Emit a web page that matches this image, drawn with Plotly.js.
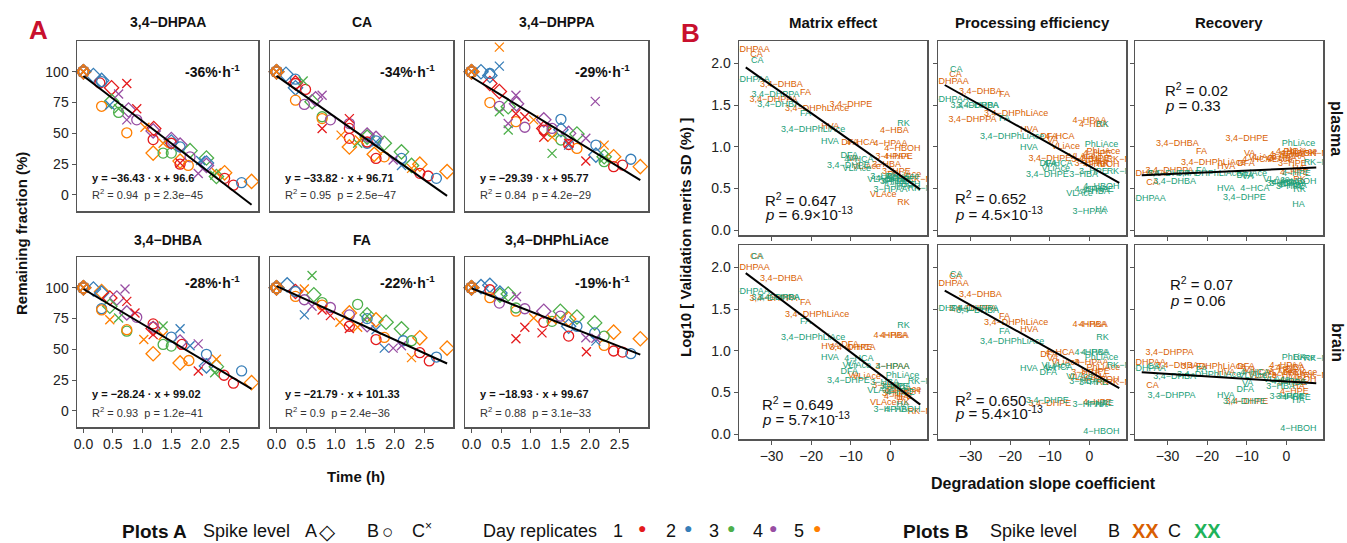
<!DOCTYPE html>
<html><head><meta charset="utf-8">
<script src="https://cdn.plot.ly/plotly-3.0.1.min.js"></script>
<style>html,body{margin:0;padding:0;background:#fff}#plot{width:1347px;height:543px}</style>
</head><body><div id="plot"></div><script>
// ---------------- Panel A data: [time (h), remaining fraction (%), day replicate] ----------------
const dhpaa_dia=[[0,100,1],[0,100,2],[0,100,3],[0,100,4],[0,100,5],[0.17,97,2],[0.31,93,2],[0.48,87,1],[0.48,76,3],[0.77,69,4],[1.2,54,1],[1.19,52,4],[1.19,34,5],[1.5,45,4],[1.5,43,2],[1.65,40.5,4],[1.82,36,3],[1.65,27.5,5],[2.1,30,3],[2.1,26,2],[2.1,24,4],[2.41,18,5],[2.87,11,5],[2.27,15,3]];
const dhpaa_cir=[[0,100,1],[0,100,2],[0,100,3],[0,100,4],[0,100,5],[0.28,91,1],[0.31,92,2],[0.31,72,5],[0.6,67,3],[0.91,61,4],[0.74,50.5,5],[1.19,45,1],[1.36,34,3],[1.5,34,3],[1.5,42,1],[1.65,39,2],[1.82,31,4],[1.65,25,1],[1.79,24,5],[2.41,13.5,1],[2.56,8,1],[2.7,10,2]];
const dhpaa_x=[[0,100,1],[0,100,2],[0,100,3],[0,100,4],[0,100,5],[0.74,90.5,1],[0.6,82,4],[0.45,73,2],[0.6,70,3],[0.74,61,4],[0.91,70,1],[1.05,55,5],[1.36,42,5],[1.96,17.5,4],[2.27,18,5],[2.24,16,3],[2.0,28,2],[1.65,26,1]];
const ca_dia=[[0,100,1],[0,100,2],[0,100,3],[0,100,4],[0,100,5],[0.16,98,2],[0.32,87,2],[0.32,91,1],[0.6,75.7,3],[0.66,78,4],[1.23,39,5],[1.53,48.6,4],[1.53,47,3],[1.68,46,4],[1.82,42,3],[1.65,33,5],[2.11,35,3],[2.28,24,3],[2.42,25,5],[2.88,19,5]];
const ca_cir=[[0,100,1],[0,100,2],[0,100,3],[0,100,4],[0,100,5],[0.32,94,2],[0.32,90.5,1],[0.49,85.7,1],[0.32,77,5],[0.47,73.5,4],[0.77,63.5,3],[0.77,62,5],[0.91,61,4],[1.23,54,1],[1.23,58,4],[1.23,46,1],[1.53,42,2],[1.53,43,1],[1.68,44,2],[1.82,31,5],[1.68,29.7,1],[2.11,29.7,2],[2.42,17.6,1],[2.56,15.4,1],[2.7,13.5,2]];
const ca_x=[[0,100,1],[0,100,2],[0,100,3],[0,100,4],[0,100,5],[0.45,92.5,3],[0.77,81,4],[0.77,54,1],[1.23,62,1],[1.09,48.6,5],[1.37,42,3],[1.4,44.6,5],[1.97,28.4,4],[2.11,24,2],[2.28,21.6,5],[1.68,43,2]];
const dhppa_dia=[[0,100,1],[0,100,2],[0,100,3],[0,100,4],[0,100,5],[0.16,100,2],[0.31,97,2],[0.31,90.5,1],[0.47,84,1],[0.62,71.6,3],[0.76,74,4],[1.22,61,4],[1.22,54,1],[1.51,53,2],[1.64,50,4],[1.78,49.5,3],[2.1,32.4,2],[2.24,31,3],[2.4,31,5],[2.85,23,5]];
const dhppa_cir=[[0,100,1],[0,100,2],[0,100,3],[0,100,4],[0,100,5],[0.31,98.6,2],[0.31,75,5],[0.47,72,4],[0.75,59.5,5],[0.9,55,4],[1.22,52.7,1],[1.36,51.4,3],[1.36,54,4],[1.51,61.4,2],[1.51,44.6,3],[1.64,41,1],[1.78,37.8,5],[2.1,40.5,2],[2.24,27,3],[2.4,23,1],[2.55,24.3,1],[2.69,29,2]];
const dhppa_x=[[0,100,1],[0,100,2],[0,100,3],[0,100,4],[0,100,5],[0.47,120,5],[0.47,104.6,2],[0.75,81,4],[0.47,67.6,3],[0.75,66,1],[0.62,58,4],[0.62,52.7,3],[0.9,63.5,1],[1.05,61,5],[1.22,46.8,1],[1.36,47,5],[1.36,33.8,3],[1.64,40.5,2],[1.64,42,1],[1.93,46,4],[2.09,76,4],[2.24,40.5,5],[1.93,27.6,1],[2.24,30,3]];
const dhba_dia=[[0,100,1],[0,100,2],[0,100,3],[0,100,4],[0,100,5],[0.17,99,2],[0.31,97,5],[0.31,95.7,2],[0.45,91.7,1],[0.57,91.7,4],[0.45,85,3],[0.74,79.6,4],[1.19,67,1],[1.19,46.5,5],[1.65,56,4],[1.65,39,5],[2.1,36.6,2],[2.27,36,3],[2.87,23,5]];
const dhba_cir=[[0,100,1],[0,100,2],[0,100,3],[0,100,4],[0,100,5],[0.31,83,2],[0.31,82,5],[0.74,64.8,3],[0.74,66,5],[0.91,76,4],[1.19,70.7,1],[1.19,68,4],[1.36,54,3],[1.5,60,2],[1.5,52.7,3],[1.68,54,1],[1.8,41,5],[2.1,46,2],[2.4,29,1],[2.56,22.6,1],[2.7,32.5,2]];
const dhba_x=[[0,100,1],[0,100,2],[0,100,3],[0,100,4],[0,100,5],[0.71,99,4],[0.74,89,1],[0.6,75.5,3],[0.45,74,5],[0.88,79.6,1],[1.03,58,5],[1.19,62,1],[1.36,69,3],[1.36,61.3,5],[1.65,66.7,2],[1.82,53,2],[1.96,54.5,4],[1.96,32.5,1],[2.27,42,5],[2.24,31,3],[2.1,40,4]];
const fa_dia=[[0,100,1],[0,100,2],[0,100,3],[0,100,4],[0,100,5],[0.18,102.4,2],[0.32,97,1],[0.63,94.4,3],[1.23,79.6,5],[1.53,78,3],[1.53,70,4],[1.68,74,5],[1.85,72,3],[2.11,66.7,3],[2.42,59.4,5],[2.88,51,5]];
const fa_cir=[[0,100,1],[0,100,2],[0,100,3],[0,100,4],[0,100,5],[0.32,93,5],[0.32,97,2],[0.47,90.3,4],[0.77,88,3],[0.77,86,5],[0.91,84,4],[1.23,78,4],[1.23,68.8,1],[1.37,86.6,3],[1.53,75,2],[1.68,58,1],[1.82,59.7,5],[2.14,57,2],[2.28,57,3],[2.42,47.3,1],[2.58,40.6,1],[2.7,43.8,2]];
const fa_x=[[0,100,1],[0,100,2],[0,100,3],[0,100,4],[0,100,5],[0.47,99,5],[0.6,110,3],[0.47,78,2],[0.6,85,4],[0.77,82,1],[0.91,77.4,1],[1.07,72,5],[1.23,67,1],[1.37,68,5],[1.53,77,3],[1.68,66,2],[1.82,51,2],[1.97,51,4],[2.11,53,4],[2.28,43.3,5]];
const phl_dia=[[0,100,1],[0,100,2],[0,100,3],[0,100,4],[0,100,5],[0.16,101,2],[0.31,102,2],[0.48,94,3],[0.48,95.7,2],[0.62,95,3],[1.22,81,4],[1.5,81,3],[1.64,74.7,5],[1.64,68.8,2],[1.78,76.3,3],[2.08,71.5,3],[2.4,64,5],[2.85,58.6,5]];
const phl_cir=[[0,100,1],[0,100,2],[0,100,3],[0,100,4],[0,100,5],[0.31,98.4,1],[0.31,92,5],[0.47,87.6,4],[0.75,81,5],[0.75,83.6,3],[0.9,83,4],[1.22,72,1],[1.36,72.8,3],[1.5,77,4],[1.64,60.8,1],[1.78,68.8,2],[2.08,63.4,2],[2.24,60.8,3],[2.24,53.2,5],[2.4,48.7,1],[2.55,47.8,1],[2.69,46.5,2]];
const phl_x=[[0,100,1],[0,100,2],[0,100,3],[0,100,4],[0,100,5],[0.76,93,4],[0.75,58.6,1],[0.9,68,1],[1.05,75.5,5],[1.19,63.4,1],[1.36,74,5],[1.93,59.4,4],[1.94,48.1,1],[2.1,56.7,2],[2.1,59,4]];

const aTitles=["3,4\u2212DHPAA","CA","3,4\u2212DHPPA","3,4\u2212DHBA","FA","3,4\u2212DHPhLiAce"];
const aRates=["-36","-34","-29","-28","-22","-19"];
const aSlope=[-36.43,-33.82,-29.39,-28.24,-21.79,-18.93];
const aIntercept=[96.6,96.71,95.77,99.02,101.33,99.67];
const aR2=["0.94","0.95","0.84","0.93","0.9","0.88"];
const aP=["2.3e\u221245","2.5e\u221247","4.2e\u221229","1.2e\u221241","2.4e\u221236","3.1e\u221233"];
const aTickVals=[0,0.5,1,1.5,2,2.5];
const aTickText=["0.0","0.5","1.0","1.5","2.0","2.5"];
const aYTicks=[0,25,50,75,100];

// ---------------- Panel B data ----------------
const bNames=["3,4\u2212DHPAA","CA","3,4\u2212DHBA","3,4\u2212DHPPA","FA","3,4\u2212DHPhLiAce","3,4\u2212DHPE","HVA","DFA","4\u2212HCA","VA","VLiAce","VLAce","3\u2212HBA","4\u2212HBA","4\u2212HPAA","3\u2212HPAA","4\u2212HBOH","4\u2212HPE","3\u2212HPE","PhLiAce","HA","RK","RK\u2212M"];
const slopeB=[-36.5,-33.8,-27.5,-29.5,-21.4,-18.5,-10.0,-15.2,-10.2,-7.5,-9.3,-6.0,-1.8,-1.0,1.0,0.0,0.5,3.0,2.0,1.5,3.5,3.0,3.3,7.5];
const slopeC=[-36.5,-33.6,-28.2,-29.0,-21.4,-19.5,-10.6,-15.3,-10.4,-8.0,-9.8,-8.5,-2.5,-1.5,1.5,0.5,0.0,3.0,2.5,1.0,3.0,3.0,3.3,7.5];
const meP_B=[2.16,2.10,1.75,1.56,1.65,1.46,1.51,1.24,1.05,1.05,0.85,0.76,0.42,0.78,1.19,1.03,0.88,0.98,0.88,0.70,0.66,0.61,0.33,0.60];
const meP_C=[1.81,2.03,1.51,1.62,1.40,1.20,0.77,1.06,0.89,0.84,0.85,0.74,0.60,0.64,0.58,0.62,0.48,0.54,0.60,0.58,0.64,0.52,1.28,0.49];
const peP_B=[1.78,1.86,1.66,1.33,1.62,1.40,0.86,1.21,1.12,1.12,1.07,1.00,0.88,0.84,1.26,1.31,0.80,0.78,0.92,0.86,0.94,0.84,0.80,0.84];
const peP_C=[1.56,1.92,1.49,1.49,1.34,1.12,0.66,0.99,0.80,0.80,0.78,0.74,0.44,0.66,0.46,0.48,0.22,0.52,0.48,0.70,1.02,0.24,1.26,0.70];
const reP_B=[0.67,0.57,1.03,0.71,0.94,0.81,1.10,0.76,0.79,0.84,0.91,0.87,0.84,0.86,0.94,0.90,0.88,0.92,0.69,0.80,0.94,0.74,0.60,0.92];
const reP_C=[0.38,0.68,0.58,0.68,0.71,0.68,0.39,0.49,0.65,0.49,0.64,0.67,0.60,0.56,0.53,0.57,0.56,0.58,0.68,0.52,1.03,0.30,0.48,0.81];
const meB_B=[2.00,2.13,1.86,1.62,1.58,1.43,1.04,1.05,1.07,1.03,0.70,0.69,0.38,0.58,1.18,1.18,0.81,0.51,0.45,0.48,0.53,0.43,0.37,0.27];
const meB_C=[1.71,2.13,1.64,1.64,1.35,1.16,0.64,0.92,0.75,0.90,0.84,0.82,0.52,0.61,0.57,0.81,0.29,0.29,0.49,0.57,0.70,0.35,1.30,0.63];
const peB_B=[1.80,1.89,1.67,1.51,1.41,1.34,0.36,1.25,0.95,0.98,0.90,0.86,0.68,0.73,1.31,1.31,0.85,0.65,0.38,0.75,0.79,0.69,0.61,0.61];
const peB_C=[1.50,1.91,1.48,1.51,1.23,1.11,0.40,0.78,0.74,0.80,0.78,0.82,0.69,0.63,0.97,0.98,0.35,0.03,0.36,0.61,0.91,0.35,1.16,0.82];
const reB_B=[0.86,0.58,0.82,0.98,0.81,0.81,0.39,0.73,0.81,0.73,0.77,0.70,0.73,0.77,0.80,0.82,0.70,0.65,0.51,0.62,0.73,0.57,0.73,0.70];
const reB_C=[0.78,0.81,0.69,0.46,0.77,0.71,0.39,0.46,0.53,0.74,0.60,0.70,0.65,0.57,0.61,0.63,0.45,0.06,0.43,0.45,0.92,0.40,0.91,0.90];
const bFitSlope=[-0.0333,-0.0267,0.0021,-0.0359,-0.0266,-0.0030];
const bFitInt=[0.737,0.767,0.735,0.622,0.751,0.631];
const bR2=["0.647","0.652","0.02","0.649","0.650","0.07"];
const bP=["6.9\u00d710<sup>-13</sup>","4.5\u00d710<sup>-13</sup>","0.33","5.7\u00d710<sup>-13</sup>","5.4\u00d710<sup>-13</sup>","0.06"];
const bColTitles=["Matrix effect","Processing efficiency","Recovery"];
const bRowTitles=["plasma","brain"];
const bXTicks=[-30,-20,-10,0];
const bXTickText=["\u221230","\u221220","\u221210","0"];
const bYTicks=[0,0.5,1,1.5,2];
const bYTickText=["0.0","0.5","1.0","1.5","2.0"];

// ---------------- Styling / layout ----------------
const W=1347,H=543;
const fx=p=>p/W, fy=p=>1-p/H;
const FONT="Liberation Sans, Arial, sans-serif";
const dayColors=['#E41A1C','#377EB8','#4DAF4A','#984EA3','#FF7F00'];
const colB='#D95F02', colC='#1B9E77';
const colsA=[[77,258],[270,453],[465,648]], rowsA=[[41,211],[257,427]];
const colsB=[[739,927],[938,1126],[1135,1323]], rowsB=[[41,235],[245,439]];

const layout={width:W,height:H,margin:{l:0,r:0,t:0,b:0,pad:0},showlegend:false,
  paper_bgcolor:'#fff',plot_bgcolor:'#fff',font:{family:FONT,color:'#222'},annotations:[]};
const data=[];
const base={showline:true,mirror:true,linecolor:'#555',linewidth:1.5,showgrid:false,zeroline:false,
  ticks:'outside',ticklen:4,tickwidth:1,tickcolor:'#555',tickfont:{family:FONT,size:14,color:'#222'},fixedrange:true};
let n=0;
function axes(fX,fY,xo,yo){
  n++; const s=n===1?'':String(n);
  layout['xaxis'+s]=Object.assign({},base,{domain:[fx(fX[0]),fx(fX[1])],anchor:'y'+s},xo);
  layout['yaxis'+s]=Object.assign({},base,{domain:[fy(fY[1]),fy(fY[0])],anchor:'x'+s},yo);
  return ['x'+s,'y'+s];
}
function ann(x,y,text,opt){layout.annotations.push(Object.assign({xref:'paper',yref:'paper',x:fx(x),y:fy(y),text:text,showarrow:false,font:{family:FONT,size:14,color:'#111'},xanchor:'center',yanchor:'middle'},opt||{}));}

// Panel A
const aSets=[[dhpaa_dia,dhpaa_cir,dhpaa_x],[ca_dia,ca_cir,ca_x],[dhppa_dia,dhppa_cir,dhppa_x],[dhba_dia,dhba_cir,dhba_x],[fa_dia,fa_cir,fa_x],[phl_dia,phl_cir,phl_x]];
const symbols=['diamond-open','circle-open','x-thin-open'];
const symSizes=[11,10,9];
aSets.forEach((sets,i)=>{
  const r=Math.floor(i/3), c=i%3;
  const [xa,ya]=axes(colsA[c],rowsA[r],
    {range:[-0.11,2.98],tickvals:aTickVals,ticktext:aTickText,showticklabels:r===1,ticks:r===1?'outside':''},
    {range:[-13,125],tickvals:aYTicks,showticklabels:c===0,ticks:c===0?'outside':''});
  let maxT=0;
  sets.forEach((pts,k)=>{
    const cols=pts.map(p=>dayColors[p[2]-1]);
    pts.forEach(p=>{if(p[0]>maxT)maxT=p[0];});
    data.push({type:'scatter',mode:'markers',xaxis:xa,yaxis:ya,x:pts.map(p=>p[0]),y:pts.map(p=>p[1]),hoverinfo:'skip',
      marker:{symbol:symbols[k],size:symSizes[k],color:cols,line:{width:1.3,color:cols}},cliponaxis:false});
  });
  data.push({type:'scatter',mode:'lines',xaxis:xa,yaxis:ya,x:[0,maxT],y:[aIntercept[i],aIntercept[i]+aSlope[i]*maxT],
    line:{color:'#000',width:2},hoverinfo:'skip'});
  const fl=colsA[c][0], fr=colsA[c][1];
  const ty=r===0?[22,71,178,194]:[240,282,394,412];
  ann((fl+fr)/2,ty[0],'<b>'+aTitles[i]+'</b>',{font:{family:FONT,size:14,color:'#111'}});
  ann(fr-16,ty[1],'<b>'+aRates[i]+'%\u00b7h<sup>-1</sup></b>',{xanchor:'right',font:{family:FONT,size:14,color:'#111'}});
  ann(fl+13,ty[2],'<b>y = \u2212'+Math.abs(aSlope[i]).toFixed(2)+' \u00b7 x + '+aIntercept[i]+'</b>',{xanchor:'left',font:{family:FONT,size:11,color:'#111'}});
  ann(fl+13,ty[3],'R<sup>2</sup> = '+aR2[i]+'  p = '+aP[i],{xanchor:'left',font:{family:FONT,size:11,color:'#333'}});
});

// Panel B
const bY=[[meP_B,meP_C],[peP_B,peP_C],[reP_B,reP_C],[meB_B,meB_C],[peB_B,peB_C],[reB_B,reB_C]];
const allX=slopeB.concat(slopeC), xMin=Math.min(...allX), xMax=Math.max(...allX);
const r2Pos=[[763,200,213],[953,198,213],[1163,89,106],[760,403,418],[953,399,413],[1168,283,300]];
bY.forEach((ys,i)=>{
  const r=Math.floor(i/3), c=i%3;
  const [xa,ya]=axes(colsB[c],rowsB[r],
    {range:[-38.2,9.2],tickvals:bXTicks,ticktext:bXTickText,showticklabels:r===1},
    {range:[-0.06,2.27],tickvals:bYTicks,ticktext:bYTickText,showticklabels:c===0});
  data.push({type:'scatter',mode:'text',xaxis:xa,yaxis:ya,x:slopeB,y:ys[0],text:bNames,textposition:'middle center',
    textfont:{family:FONT,size:9,color:colB},cliponaxis:true,hoverinfo:'skip'});
  data.push({type:'scatter',mode:'text',xaxis:xa,yaxis:ya,x:slopeC,y:ys[1],text:bNames,textposition:'middle center',
    textfont:{family:FONT,size:9,color:colC},cliponaxis:true,hoverinfo:'skip'});
  data.push({type:'scatter',mode:'lines',xaxis:xa,yaxis:ya,x:[xMin,xMax],y:[bFitInt[i]+bFitSlope[i]*xMin,bFitInt[i]+bFitSlope[i]*xMax],
    line:{color:'#000',width:2},hoverinfo:'skip'});
  const p=r2Pos[i];
  ann(p[0],p[1],'R<sup>2</sup> = '+bR2[i],{xanchor:'left',font:{family:FONT,size:15,color:'#111'}});
  ann(p[0],p[2],'<i>p</i> = '+bP[i],{xanchor:'left',font:{family:FONT,size:15,color:'#111'}});
  if(r===0) ann((colsB[c][0]+colsB[c][1])/2,22,'<b>'+bColTitles[c]+'</b>',{font:{family:FONT,size:15,color:'#111'}});
});
ann(1337,128,'<b>'+bRowTitles[0]+'</b>',{textangle:90,font:{family:FONT,size:16,color:'#111'}});
ann(1337,342,'<b>'+bRowTitles[1]+'</b>',{textangle:90,font:{family:FONT,size:16,color:'#111'}});

// Panel letters and axis titles
ann(38,30,'<b>A</b>',{font:{family:FONT,size:26,color:'#C8102E'}});
ann(690,33,'<b>B</b>',{font:{family:FONT,size:26,color:'#C8102E'}});
ann(21,234,'<b>Remaining fraction (%)</b>',{textangle:-90,font:{family:FONT,size:15,color:'#111'}});
ann(356,476,'<b>Time (h)</b>',{font:{family:FONT,size:15,color:'#111'}});
ann(685,238,'<b>Log10 [ Validation merits SD (%) ]</b>',{textangle:-90,font:{family:FONT,size:15,color:'#111'}});
ann(1043,483,'<b>Degradation slope coefficient</b>',{font:{family:FONT,size:16,color:'#111'}});

// Bottom legend
const LY=531;
const lf=(s,c)=>({family:FONT,size:s,color:c||'#111'});
ann(120,LY,'<b>Plots A</b>',{xanchor:'left',font:lf(19)});
ann(201,LY,'Spike level',{xanchor:'left',font:lf(18)});
ann(303,LY,'A',{xanchor:'left',font:lf(18)});
ann(317,LY,'\u25c7',{xanchor:'left',font:lf(21)});
ann(365,LY,'B',{xanchor:'left',font:lf(18)});
ann(380,LY,'\u25cb',{xanchor:'left',font:lf(19)});
ann(410,LY,'C',{xanchor:'left',font:lf(18)});
ann(423,LY-5,'\u00d7',{xanchor:'left',font:lf(12)});
ann(481,LY,'Day replicates',{xanchor:'left',font:lf(18)});
const dayX=[[611,636],[664,682],[707,725],[751,767],[792,811]];
dayX.forEach((d,k)=>{ann(d[0],LY,String(k+1),{xanchor:'left',font:lf(18)});ann(d[1],LY-3,'\u25cf',{xanchor:'left',font:lf(14,dayColors[k])});});
ann(901,LY,'<b>Plots B</b>',{xanchor:'left',font:lf(19)});
ann(988,LY,'Spike level',{xanchor:'left',font:lf(18)});
ann(1106,LY,'B',{xanchor:'left',font:lf(18)});
ann(1130,LY,'<b>XX</b>',{xanchor:'left',font:lf(20,colB)});
ann(1166,LY,'C',{xanchor:'left',font:lf(18)});
ann(1192,LY,'<b>XX</b>',{xanchor:'left',font:lf(20,'#1FB35A')});

Plotly.newPlot('plot',data,layout,{staticPlot:true});
</script></body></html>
